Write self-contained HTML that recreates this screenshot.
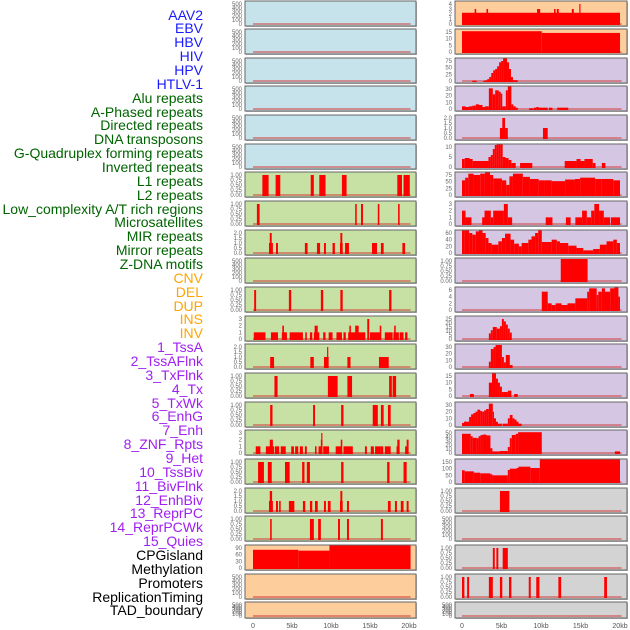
<!DOCTYPE html>
<html><head><meta charset="utf-8">
<style>
html,body{margin:0;padding:0;background:#fff;}
#root{position:relative;width:630px;height:630px;overflow:hidden;font-family:"Liberation Sans",sans-serif;}
.lbl{position:absolute;right:427px;font-size:14px;line-height:14px;white-space:nowrap;}
</style></head>
<body>
<div id="root">
<svg id="chart" width="630" height="630" style="position:absolute;left:0;top:0"></svg>
</div>
<script>
const labels = ["AAV2","EBV","HBV","HIV","HPV","HTLV-1","Alu repeats","A-Phased repeats","Directed repeats","DNA transposons","G-Quadruplex forming repeats","Inverted repeats","L1 repeats","L2 repeats","Low_complexity A/T rich regions","Microsatellites","MIR repeats","Mirror repeats","Z-DNA motifs","CNV","DEL","DUP","INS","INV","1_TssA","2_TssAFlnk","3_TxFlnk","4_Tx","5_TxWk","6_EnhG","7_Enh","8_ZNF_Rpts","9_Het","10_TssBiv","11_BivFlnk","12_EnhBiv","13_ReprPC","14_ReprPCWk","15_Quies","CPGisland","Methylation","Promoters","ReplicationTiming","TAD_boundary"];
const labelGroups = [6,13,5,15,5];
const groupColors = ["#1a1aff","#006400","#ffa500","#a020f0","#000000"];
const xTicks = [0,5,10,15,20];
const xTickLabels = ["0","5kb","10kb","15kb","20kb"];
const T500 = ["0","100","200","300","400","500"];
const T1 = ["0.00","0.25","0.50","0.75","1.00"];
const T2 = ["0.0","0.5","1.0","1.5","2.0"];
const T3 = ["0","1","2","3"];
// left column panels: [bg, tick labels, tickmax, bars [startKb,endKb,value]]
const leftTicks = [T500,T500,T500,T500,T500,T500,T1,T1,T2,T500,T1,T3,T2,T1,T1,T3,T1,T2,T1,["0","30","60","90"],T500,T500];
const leftMax = [500,500,500,500,500,500,1,1,2,500,1,3,2,1,1,3,1,2,1,90,500,500];
const leftBg = ["#c6e3eb","#c6e3eb","#c6e3eb","#c6e3eb","#c6e3eb","#c6e3eb","#c7e1a4","#c7e1a4","#c7e1a4","#c7e1a4","#c7e1a4","#c7e1a4","#c7e1a4","#c7e1a4","#c7e1a4","#c7e1a4","#c7e1a4","#c7e1a4","#c7e1a4","#fdcd9c","#fdcd9c","#fdcd9c"];
const leftBars = [[],[],[],[],[],[],
[[1.2,2.0,1],[2.9,3.5,1],[7.4,7.8,1],[8.5,9.3,1],[11.4,12.0,1],[18.5,19.1,1],[19.3,20.1,1]],
[[0.5,0.85,1],[13.1,13.3,1],[13.85,14.1,1],[16.0,16.2,1],[18.6,18.8,1]],
[[2.05,2.55,1],[2.15,2.4,2],[2.95,3.2,1],[6.65,7.0,1],[8.2,8.6,1],[9.1,9.35,1],[10.2,10.5,1],[11.15,11.5,1],[11.2,11.45,2],[11.8,12.3,1],[15.25,15.9,1],[16.4,16.75,1],[19.15,19.5,1]],
[],
[[0.15,0.4,1],[4.6,4.9,1],[8.7,9.0,1],[11.2,11.5,1],[17.45,17.75,1]],
[[0.1,1.6,1],[2.3,3.2,1],[3.7,4.35,1],[3.76,3.97,2],[4.7,6.4,1],[6.7,6.9,1],[7.3,7.6,1],[7.8,8.5,1],[7.9,8.3,2],[9.0,9.3,1],[9.7,10.2,1],[10.7,11.4,1],[11.6,11.9,1],[12.2,14.4,1],[12.35,12.55,2],[13.1,13.55,2],[14.65,14.9,3],[15.0,16.4,1],[16.25,16.45,2],[16.9,17.9,1],[18.0,18.7,1],[18.1,18.3,2],[18.8,19.3,1],[19.5,19.8,1]],
[[2.2,2.7,1],[7.35,7.8,1],[9.1,9.7,1],[9.5,9.65,2],[12.1,12.5,1],[16.15,17.4,1]],
[[2.75,3.15,1],[9.6,10.85,1],[12.1,12.7,1],[17.45,17.8,1],[17.9,18.35,1]],
[[2.2,2.5,1],[7.7,7.95,1],[11.3,11.6,1],[15.35,16.0,1],[16.4,16.75,1],[17.3,17.65,1]],
[[0.35,0.95,1],[1.65,2.7,1],[2.15,2.55,2],[2.8,3.35,1],[3.55,4.2,1],[4.9,5.25,1],[5.4,5.8,1],[6.0,6.4,1],[6.65,6.9,1],[7.95,8.15,1],[8.4,8.8,1],[8.7,8.9,2],[8.75,8.9,3],[9.0,9.75,1],[10.6,11.35,1],[11.25,11.45,2],[11.6,12.8,1],[14.35,14.6,1],[15.1,15.5,1],[15.65,16.3,1],[16.3,16.7,1],[16.9,17.65,1],[18.4,18.65,1],[18.5,18.8,2],[19.5,19.8,1],[19.7,19.95,2]],
[[0.65,1.4,1],[1.9,2.4,1],[4.1,4.7,1],[6.3,6.6,1],[6.9,7.3,1],[11.3,11.6,1],[17.2,17.5,1],[19.3,19.7,1]],
[[2.05,2.55,1],[2.15,2.45,2],[2.95,3.2,1],[3.35,3.55,1],[4.6,5.3,1],[6.4,6.7,1],[7.3,7.6,1],[7.95,8.3,1],[9.1,9.35,1],[9.6,9.95,1],[11.15,11.5,1],[11.2,11.45,2],[12.05,12.3,1],[17.3,17.65,1],[18.2,18.45,1],[18.95,19.3,1],[19.7,19.95,1]],
[[2.2,2.4,1],[7.3,7.8,1],[8.35,8.7,1],[10.9,11.15,1],[12.05,12.3,1],[16.4,16.65,1]],
[[0,5.8,82],[5.8,9.8,78],[9.8,20.2,105]],
[],[]];
const rightTicks = [["0","1","2","3","4"],["0","5","10","15"],["0","25","50","75"],["0","10","20","30"],T2,["0","5","10"],["0","25","50","75"],T3,["0","20","40","60"],T1,["0","2","4","6"],["0","5","10","15","20","25"],["0","10","20","30"],["0","5","10","15"],["0","10","20","30"],["0","10","20","30","40","50"],["0","50","100","150"],T1,T500,T1,T1,T500];
const rightMax = [4,15,75,30,2,10,75,3,60,1,6,25,30,15,30,50,150,1,500,1,1,500];
const rightBg = ["#fdcd9c","#fdcd9c","#d5c6e3","#d5c6e3","#d5c6e3","#d5c6e3","#d5c6e3","#d5c6e3","#d5c6e3","#d5c6e3","#d5c6e3","#d5c6e3","#d5c6e3","#d5c6e3","#d5c6e3","#d5c6e3","#d5c6e3","#d3d3d3","#d3d3d3","#d3d3d3","#d3d3d3","#d3d3d3"];
const rightBars = [
[[0,20.0,2.25],[1.6,1.8,3],[3.1,3.3,3],[9.5,9.9,3],[11.65,11.85,3],[12.0,12.25,3],[13.9,14.15,3],[14.85,15.0,4]],
[[0,10.1,15.6],[10.1,20.0,14.3]],
[[1.3,1.85,1],[2.7,2.95,1],[2.95,3.2,3],[3.2,3.45,7],[3.45,3.7,15],[3.7,3.95,30],[3.95,4.2,40],[4.2,4.45,45],[4.45,4.7,55],[4.7,4.95,70],[4.95,5.2,75],[5.2,5.7,90],[5.7,5.95,70],[5.95,6.2,45],[6.2,6.45,15],[6.45,7.05,3]],
[[0,0.45,4],[0.45,0.9,3],[0.9,1.3,4],[1.3,1.75,5],[1.75,2.15,7],[2.15,2.6,6],[2.6,2.9,3],[2.9,3.4,4],[3.4,3.9,31],[3.9,4.2,22],[4.2,4.65,28],[4.65,4.9,26],[4.9,5.1,23],[5.1,5.55,4],[5.55,5.8,28],[5.8,6.25,36],[6.25,6.5,7],[6.5,6.8,4],[6.8,7.05,2],[8.5,9.05,1],[9.1,9.4,2],[9.4,9.7,3],[9.7,10.85,2],[11.0,11.45,2],[12.05,13.45,2]],
[[4.8,5.15,1],[5.1,5.45,2],[5.45,5.8,1],[10.25,10.85,1]],
[[0,0.35,4],[0.35,0.95,4.5],[0.95,1.35,4],[1.35,3.35,3],[3.35,3.65,5],[3.65,3.9,6],[3.9,4.15,9],[4.15,4.4,11],[4.4,4.65,13],[4.65,4.9,15],[4.9,5.15,14],[5.15,5.5,5],[5.5,5.9,4.5],[5.9,6.25,3.5],[6.25,6.8,2],[7.35,8.9,2],[13.0,14.5,3],[14.5,15.0,4],[15.0,15.5,3],[15.5,15.95,4],[15.95,16.55,4],[16.55,16.9,2],[17.7,18.15,2]],
[[0,0.4,55],[0.4,0.8,65],[0.8,1.45,80],[1.45,2.3,75],[2.3,2.9,80],[2.9,3.55,88],[3.55,3.95,75],[3.95,5.05,62],[5.05,5.6,55],[5.6,6.0,38],[6.0,6.45,70],[6.45,7.7,80],[7.7,8.6,68],[8.6,9.7,60],[9.7,10.5,55],[10.5,11.35,55],[11.35,13.05,52],[13.05,14.3,58],[14.3,14.95,60],[14.95,16.85,65],[16.85,17.7,60],[17.7,19.15,60],[19.15,20.0,55]],
[[0,0.45,2],[0.45,1.2,1],[2.55,2.85,1],[2.85,3.65,2],[3.65,3.95,1],[3.95,5.3,2],[5.3,5.8,3],[5.8,6.35,1],[10.6,11.45,1],[13.15,13.75,1],[14.35,15.2,1],[15.2,15.8,2],[15.8,16.35,1],[16.35,16.75,2],[16.75,17.35,3],[17.35,17.95,2],[17.95,18.75,1],[18.85,20.0,1]],
[[0,0.3,75],[0.3,0.9,80],[0.9,1.3,60],[1.3,1.75,55],[1.75,2.15,65],[2.15,2.6,68],[2.6,3.0,60],[3.0,3.35,45],[3.35,3.75,30],[3.75,4.6,25],[4.6,5.05,35],[5.05,5.45,45],[5.45,6.15,58],[6.15,6.6,40],[6.6,7.2,28],[7.2,7.55,20],[7.55,8.4,30],[8.4,8.8,40],[8.8,9.25,50],[9.25,9.65,60],[9.65,10.1,70],[10.1,11.35,33],[11.35,12.0,40],[12.0,12.4,35],[12.4,13.45,30],[13.45,14.5,22],[14.5,15.35,15],[15.35,16.6,8],[16.6,17.45,12],[17.45,18.3,25],[18.3,19.15,35],[19.15,19.6,40],[19.6,20.0,30]],
[[12.5,15.9,1.1]],
[[10.1,10.85,5.5],[10.85,11.35,2],[11.35,11.85,1.5],[11.85,12.6,2],[12.6,13.35,1.5],[13.35,14.35,2],[14.35,15.85,3.5],[15.85,16.1,5.5],[16.1,17.05,6.5],[17.05,17.25,4.5],[17.25,17.7,5.5],[17.7,18.1,6.5],[18.1,18.75,5.5],[18.75,19.3,6.5],[19.3,19.8,7.5],[19.8,20.0,4]],
[[3.4,3.65,7],[3.65,3.9,11],[3.9,4.4,15],[4.4,4.8,13],[4.8,5.05,16],[5.05,5.3,25],[5.3,5.55,22],[5.55,5.8,18],[5.8,6.05,13],[6.05,6.3,8]],
[[3.4,3.65,8],[3.65,4.0,27],[4.0,4.25,30],[4.25,5.05,33],[5.05,5.3,15],[5.3,5.55,7],[5.55,6.05,18],[6.05,6.4,3]],
[[1.0,1.5,1.5],[3.4,3.8,10],[3.8,4.3,20],[4.3,4.55,13],[4.55,4.8,10],[4.8,5.05,7],[5.05,5.3,3],[5.3,5.8,3],[5.8,6.25,4],[6.6,7.05,1.5]],
[[0,0.25,3],[0.25,0.9,5],[0.9,1.15,12],[1.15,1.45,16],[1.45,1.7,18],[1.7,1.95,20],[1.95,2.3,23],[2.3,2.55,21],[2.55,2.8,20],[2.8,3.05,22],[3.05,3.4,24],[3.4,3.9,32],[3.9,4.05,20],[4.05,4.3,10],[4.3,4.55,5],[4.55,5.05,2],[5.15,5.8,2],[5.8,6.05,10],[6.05,6.4,15],[6.4,6.65,10],[6.65,6.9,8],[6.9,7.15,5],[7.15,7.55,2]],
[[0,1.1,48],[1.1,1.35,42],[1.35,1.85,38],[1.85,2.1,37],[2.1,2.35,42],[2.35,2.6,45],[2.6,3.1,46],[3.1,3.6,44],[3.6,3.85,12],[3.85,4.8,4],[4.8,5.8,5],[5.8,6.05,15],[6.05,6.3,37],[6.3,6.8,45],[6.8,7.1,48],[7.1,10.1,52],[19.35,20.0,4]],
[[0,0.35,88],[0.35,1.5,80],[1.5,2.3,70],[2.3,3.6,65],[3.6,3.85,58],[3.85,5.8,50],[5.8,6.05,90],[6.05,6.9,100],[6.9,7.15,105],[7.15,8.65,115],[8.65,9.85,105],[9.85,20.0,190]],
[[4.8,6.0,1]],
[],
[[3.9,4.15,1],[4.35,4.6,1],[5.15,5.8,1]],
[[0,0.3,1],[0.65,0.9,1],[3.4,3.9,1],[4.8,5.1,1],[5.95,6.25,1],[8.45,8.7,1],[9.4,9.8,1],[12.2,12.55,1],[18.0,18.35,1]],
[]];

const NS='http://www.w3.org/2000/svg';
const svg=document.getElementById('chart');
const root=document.getElementById('root');
function mk(tag,attrs,parent){const e=document.createElementNS(NS,tag);for(const k in attrs)e.setAttribute(k,attrs[k]);(parent||svg).appendChild(e);return e;}

// labels
let li=0;
labelGroups.forEach((n,g)=>{for(let j=0;j<n;j++){const d=document.createElement('div');d.className='lbl';d.style.color=groupColors[g];d.style.top=(15+li*13.86-7.5)+'px';d.textContent=labels[li];


root.appendChild(d);li++;}});

const cols=[{x0:245,x1:416,k0:253,k1:409,ticks:leftTicks,max:leftMax,bg:leftBg,bars:leftBars,name:'left'},
            {x0:455,x1:627,k0:462,k1:620,ticks:rightTicks,max:rightMax,bg:rightBg,bars:rightBars,name:'right'}];
cols.forEach(c=>{
  const xs=kb=>c.k0+(kb/20)*(c.k1-c.k0);
  for(let i=0;i<22;i++){
    const top=Math.round(0.5+i*28.65), h=(i==21?16:25);
    const g=mk('g',{});
    
    
    mk('rect',{x:c.x0+1,y:top+1,width:c.x1-c.x0,height:h,fill:'#bbb'},g);
    mk('rect',{x:c.x0,y:top,width:c.x1-c.x0,height:h,fill:c.bg[i],stroke:'#666','stroke-width':1},g);
    const bot=top+h-2, span=h-5, mx=c.max[i];
    const ys=v=>bot-(v/mx)*span;
    mk('rect',{x:xs(0),y:bot-1,width:xs(20.2)-xs(0),height:2,fill:'rgba(210,70,70,0.55)'},g);
    c.bars[i].forEach(b=>{
      const yt=Math.max(top+0.5,ys(b[2]));
      const r=mk('rect',{x:xs(b[0]),y:yt,width:Math.max(1,xs(b[1])-xs(b[0])),height:bot-yt+1,fill:'#ff0000'},g);
      
      
    });
    const tl=c.ticks[i], n=tl.length-1;
    tl.forEach((t,j)=>{
      const tv=(mx/n)*j;
      const tx=mk('text',{x:c.x0-3,y:ys(tv)+2,'text-anchor':'end','font-size':6,fill:'#666','font-family':'Liberation Sans, sans-serif'},g);
      tx.textContent=t;
      
      
    });
  }
  xTicks.forEach((t,j)=>{
    const tx=mk('text',{x:xs(t),y:628,'text-anchor':'middle','font-size':7,fill:'#555','font-family':'Liberation Sans, sans-serif'});
    tx.textContent=xTickLabels[j];
    
    
  });
});
</script>
</body></html>
